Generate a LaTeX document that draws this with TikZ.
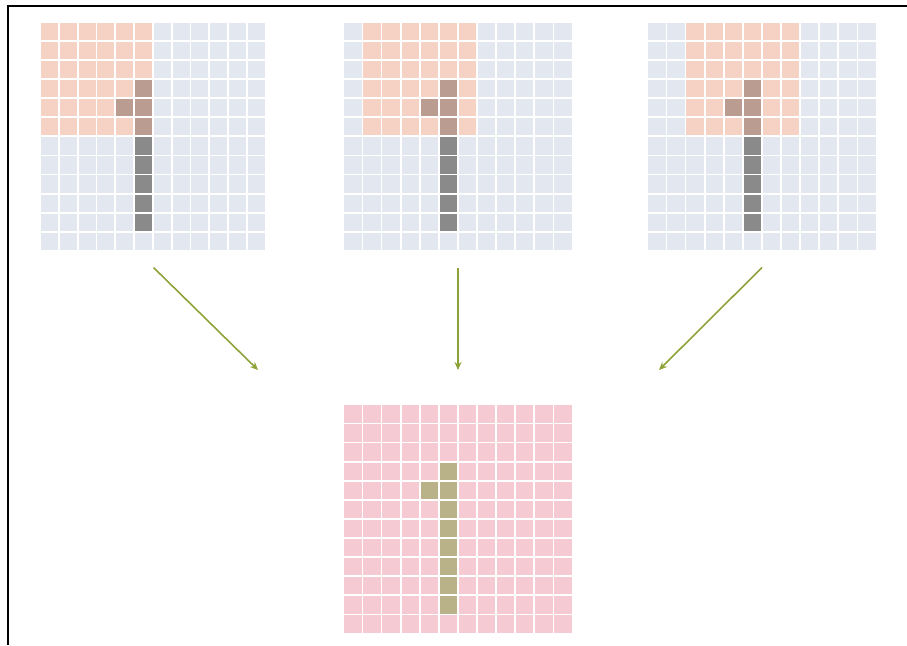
\documentclass[tikz,border=0pt]{standalone}
\usetikzlibrary{arrows.meta}
\definecolor{gbg}{HTML}{E2E7F0}
\definecolor{ghl}{HTML}{F6D2C5}
\definecolor{gdig}{HTML}{8A8A8A}
\definecolor{gov}{HTML}{BA9C90}
\definecolor{pbg}{HTML}{F6CAD3}
\definecolor{pdig}{HTML}{B9B289}
\definecolor{arrowgreen}{HTML}{8DA33A}
% #1 x0, #2 y0, #3 pitch x, #4 pitch y, #5 highlight start col, #6 bg, #7 hl, #8 digit, #9 overlap
\newcommand\mygrid[9]{%
  \foreach \i in {0,...,11}{%
    \foreach \j in {0,...,11}{%
      \pgfmathtruncatemacro\isdig{((\i==5 && \j>=3 && \j<=10) || (\i==4 && \j==4)) ? 1 : 0}%
      \pgfmathtruncatemacro\ishl{(\i>=#5 && \i<=#5+5 && \j<=5) ? 1 : 0}%
      \ifnum\isdig=1
        \ifnum\ishl=1 \def\cc{#9}\else \def\cc{#8}\fi
      \else
        \ifnum\ishl=1 \def\cc{#7}\else \def\cc{#6}\fi
      \fi
      \fill[\cc] ({#1+\i*#3+0.9},{#2+\j*#4+0.9}) rectangle ++({#3-1.8},{#4-1.8});
    }%
  }%
}
\begin{document}
\begin{tikzpicture}[x=1pt,y=-1pt,
  conn/.style={draw=arrowgreen,line width=1.6pt,-{Stealth[length=8pt,width=7pt]}},
  gridbox/.style={inner sep=0pt,outer sep=0pt,minimum width=229pt,minimum height=229pt,anchor=north west}]
\useasboundingbox (0,0) rectangle (907,645);
% frame
\draw[line width=2pt] (7.7,645) -- (7.7,6.3) -- (907,6.3);
% grids
\mygrid{40}{21.7}{18.8}{19.1}{0}{gbg}{ghl}{gdig}{gov}
\mygrid{343.3}{21.7}{19.1}{19.1}{1}{gbg}{ghl}{gdig}{gov}
\mygrid{647.3}{21.7}{19.1}{19.1}{2}{gbg}{ghl}{gdig}{gov}
\mygrid{343.3}{404.3}{19.1}{19.1}{-10}{pbg}{pbg}{pdig}{pdig}
% named nodes covering grids
\node[gridbox,minimum width=225.6pt] (g1) at (40,21.7) {};
\node[gridbox] (g2) at (343.3,21.7) {};
\node[gridbox] (g3) at (647.3,21.7) {};
\node[gridbox] (out) at (343.3,404.3) {};
% arrow end points
\coordinate (s1) at (153.5,267.5);
\coordinate (e1) at (258,370);
\coordinate (s2) at (458,267.5);
\coordinate (e2) at (458,370);
\coordinate (s3) at (762,267.5);
\coordinate (e3) at (659,370);
\draw[conn] (s1) -- (e1);
\draw[conn] (s2) -- (e2);
\draw[conn] (s3) -- (e3);
\end{tikzpicture}
\end{document}
